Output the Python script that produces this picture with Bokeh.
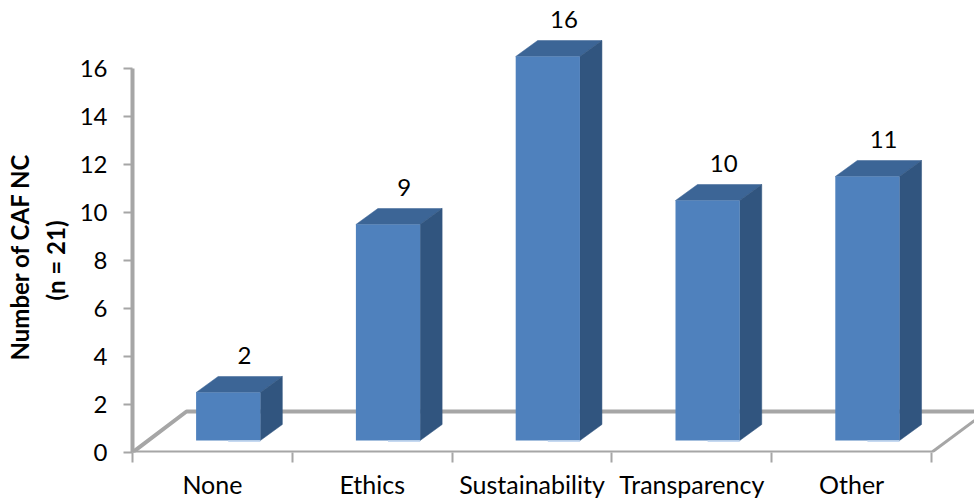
from bokeh.plotting import figure
from bokeh.models import Range1d, FixedTicker, ColumnDataSource, Title
from bokeh.core.properties import value
from bokeh.embed import file_html
from bokeh.resources import INLINE

categories = ["None", "Ethics", "Sustainability", "Transparency", "Other"]
counts = [2, 9, 16, 10, 11]
y_ticks = [0, 2, 4, 6, 8, 10, 12, 14, 16]
y_title_lines = ["(n = 21)", "Number of CAF NC"]

FONT = "Lato"
GRAY = "#A6A6A6"
FRONT = "#4F81BD"
TOP = "#3C6596"
SIDE = "#31557F"
HILITE = "#C6D9F1"

CAT_PX = 159.8
UNIT_PX = 24.0
dx = 22 / CAT_PX      # depth shift of a bar
dy = 16 / UNIT_PX
base = 0.5            # bar sits this far up the floor
left = 0.398
bw = 0.402
fx = 54 / CAT_PX      # floor depth
fy = 41 / UNIT_PX

p = figure(width=974, height=501, output_backend="svg", toolbar_location=None,
           x_range=Range1d(0, 842 / CAT_PX), y_range=Range1d(0, 452 / UNIT_PX),
           min_border_left=132, min_border_right=0, min_border_top=0, min_border_bottom=49,
           outline_line_color=None, background_fill_color="white", border_fill_color="white")
p.grid.visible = False

# floor
n = len(categories)
p.line([0, fx, 6], [0, fy, fy], line_color=GRAY, line_width=4)
p.line([n, n + 0.27], [0, 32 / UNIT_PX], line_color=GRAY, line_width=3)
p.line([0, n], [0, 0], line_color=GRAY, line_width=4)

# bars
x0 = [i + left for i in range(n)]
x1 = [x + bw for x in x0]
tops = [base + c for c in counts]
src = ColumnDataSource(dict(x0=x0, x1=x1, top=tops, bottom=[base] * n))
p.patches([[a, a + dx, b + dx, b] for a, b in zip(x0, x1)],
          [[t, t + dy, t + dy, t] for t in tops], fill_color=TOP, line_color=TOP, line_width=0.5)
p.patches([[b, b + dx, b + dx, b] for b in x1],
          [[t, t + dy, base + dy, base] for t in tops], fill_color=SIDE, line_color=SIDE, line_width=0.5)
p.quad(left="x0", right="x1", top="top", bottom="bottom", source=src,
       fill_color=FRONT, line_color=None)
p.segment([a + bw / 2 for a in x0], [base - 0.03] * n, x1, [base - 0.03] * n,
          line_color=HILITE, line_width=1.5)

# value labels
p.text([i + 0.70 for i in range(n)], [t + 1.55 for t in tops], text=[str(c) for c in counts],
       text_font=value(FONT), text_font_size="24px", text_color="black",
       text_align="center", text_baseline="middle")

# axes
ya = p.yaxis[0]
ya.ticker = FixedTicker(ticks=y_ticks)
ya.bounds = (0, 16)
ya.axis_line_color = GRAY
ya.axis_line_width = 4
ya.major_tick_line_color = GRAY
ya.major_tick_line_width = 2
ya.major_tick_in = 0
ya.major_tick_out = 9
ya.minor_tick_line_color = None
ya.major_label_standoff = 16
ya.major_label_text_font = FONT
ya.major_label_text_font_size = "24px"
ya.major_label_text_color = "black"

# y title, two rotated lines
for line, off, gap in zip(y_title_lines, [152, 92], [14, -4]):
    p.add_layout(Title(text=line, align="left", offset=off, standoff=gap,
                       text_font=FONT, text_font_size="24px", text_font_style="bold",
                       text_color="black"), "left")

xa = p.xaxis[0]
xa.ticker = FixedTicker(ticks=[i + 0.5 for i in range(n)], minor_ticks=list(range(n + 1)))
xa.major_label_overrides = {i + 0.5: c for i, c in enumerate(categories)}
xa.bounds = (0, n)
xa.axis_line_color = None
xa.major_tick_line_color = None
xa.major_tick_in = 0
xa.major_tick_out = 0
xa.minor_tick_line_color = GRAY
xa.minor_tick_line_width = 2
xa.minor_tick_in = 0
xa.minor_tick_out = 10
xa.major_label_standoff = 6
xa.major_label_text_font = FONT
xa.major_label_text_font_size = "25px"
xa.major_label_text_color = "black"

open("out.html", "w").write(file_html(p, INLINE))
